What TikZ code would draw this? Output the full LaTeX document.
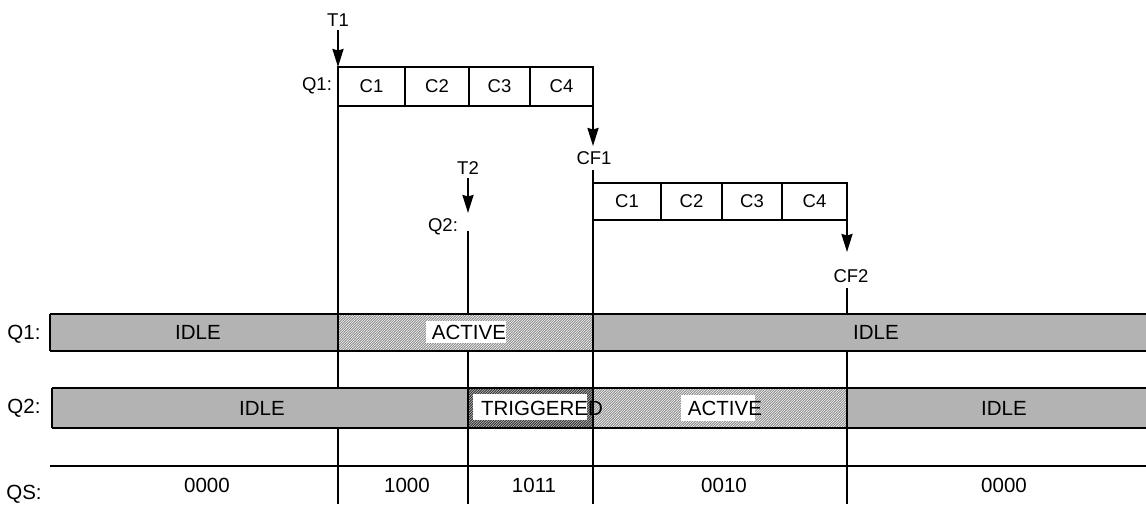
\documentclass[tikz,border=0pt]{standalone}
\usepackage{fontspec}
\setmainfont{Liberation Sans}
\usetikzlibrary{arrows.meta,patterns}
\definecolor{idlegray}{RGB}{179,179,179}
\pgfdeclarepatternformonly{fineNE}{\pgfqpoint{-1pt}{-1pt}}{\pgfqpoint{3.5pt}{3.5pt}}{\pgfqpoint{2.5pt}{2.5pt}}{%
  \pgfsetlinewidth{1pt}%
  \pgfpathmoveto{\pgfqpoint{-0.1pt}{-0.1pt}}%
  \pgfpathlineto{\pgfqpoint{2.6pt}{2.6pt}}%
  \pgfusepath{stroke}}
\begin{document}
\begin{tikzpicture}[x=1pt,y=-1pt,
  ln/.style={line width=2.2pt},
  cell/.style={draw, line width=2.2pt, inner sep=0pt, outer sep=0pt, font=\fontsize{18.5}{20}\selectfont},
  toplbl/.style={inner sep=0pt, font=\fontsize{18.5}{20}\selectfont},
  barlbl/.style={inner sep=0pt, font=\fontsize{20.5}{22}\selectfont},
  arr/.style={line width=2.2pt, -{Stealth[length=18pt,width=11pt,inset=1.5pt]}},
  idle/.style={fill=idlegray},
  activefill/.style={preaction={fill=white}, pattern=fineNE, pattern color=black!45},
  trigfill/.style={preaction={fill=gray!45}, pattern=fineNE, pattern color=black!80},
  wbox/.style={fill=white, inner sep=0pt, outer sep=0pt}
]
\useasboundingbox (0,0) rectangle (1146,504);

% ---------- top: first burst of cells ----------
\node[toplbl] (T1) at (338,20) {T1};
\node[toplbl] (Q1t) at (317,86) {Q1:};
\node[cell, minimum width=67pt, minimum height=39pt] (a1) at (371.5,86.5) {C1};
\node[cell, minimum width=64pt, minimum height=39pt] (a2) at (437,86.5) {C2};
\node[cell, minimum width=61pt, minimum height=39pt] (a3) at (499.5,86.5) {C3};
\node[cell, minimum width=63pt, minimum height=39pt] (a4) at (561.5,86.5) {C4};

\node[toplbl] (CF1) at (594,158) {CF1};
\coordinate (cf1tip) at (593,146);

\node[toplbl] (T2) at (468,168) {T2};
\coordinate (t2tip) at (468,213);
\node[toplbl] (Q2t) at (443,227) {Q2:};
\coordinate (q2start) at (468,231);

% second burst of cells
\node[cell, minimum width=68pt, minimum height=37pt] (b1) at (627,201.5) {C1};
\node[cell, minimum width=61pt, minimum height=37pt] (b2) at (691.5,201.5) {C2};
\node[cell, minimum width=60pt, minimum height=37pt] (b3) at (752,201.5) {C3};
\node[cell, minimum width=65pt, minimum height=37pt] (b4) at (814.5,201.5) {C4};

\node[toplbl] (CF2) at (851,276) {CF2};
\coordinate (cf2tip) at (847,252);
\coordinate (cf2start) at (847,288);

% bottom ends of the time marks
\coordinate (v1) at (338,504);
\coordinate (v2) at (468,504);
\coordinate (v3) at (593,504);
\coordinate (v4) at (847,504);

% arrows and time marks
\draw[arr] ([yshift=-3pt]T1.south) -- (a1.north west);
\draw[ln] (a1.south west) -- (v1);
\draw[arr] (a4.south east) -- (cf1tip);
\draw[ln] (b1.north west |- {(0,170)}) -- (b1.north west);
\draw[ln] (b1.south west) -- (v3);
\draw[arr] ([yshift=-3pt]T2.south) -- (t2tip);
\draw[ln] (q2start) -- (v2);
\draw[arr] (b4.south east) -- (cf2tip);
\draw[ln] (cf2start) -- (v4);

% ---------- Q1 bar ----------
\fill[idle] (50,314) rectangle (338,351);
\fill[activefill] (338,314) rectangle (593,351);
\fill[idle] (593,314) rectangle (1146,351);
\draw[ln] (50,314) -- (1146,314);
\draw[ln] (50,351) -- (1146,351);
\draw[ln] (50,314) -- (50,351);
\draw[ln] (338,314) -- (338,351);
\draw[ln] (593,314) -- (593,351);

% ---------- Q2 bar ----------
\fill[idle] (52,388) rectangle (468,428);
\fill[trigfill] (468,388) rectangle (593,428);
\fill[activefill] (593,388) rectangle (847,428);
\fill[idle] (847,388) rectangle (1146,428);
\draw[ln] (52,388) -- (1146,388);
\draw[ln] (52,428) -- (1146,428);
\draw[ln] (52,388) -- (52,428);
\draw[ln] (468,388) -- (468,428);
\draw[ln] (593,388) -- (593,428);
\draw[ln] (847,388) -- (847,428);

% ---------- QS line ----------
\draw[ln] (50,466) -- (1146,466);

% ---------- labels ----------
\node[barlbl] (lq1) at (24,334) {Q1:};
\node[barlbl] (lq2) at (24,408) {Q2:};
\node[barlbl] (lqs) at (24,494) {QS:};

\node[barlbl] (q1i1) at (198,332) {IDLE};
\node[wbox, minimum width=80pt, minimum height=22pt] (q1wb) at (465.5,332) {};
\node[barlbl] (q1a) at (469,332) {ACTIVE};
\node[barlbl] (q1i2) at (876,332) {IDLE};

\node[barlbl] (q2i1) at (262,408) {IDLE};
\node[wbox, minimum width=114pt, minimum height=26pt] (q2wb1) at (530,407) {};
\node[barlbl] (q2t) at (542,408) {TRIGGERED};
\node[wbox, minimum width=74pt, minimum height=26pt] (q2wb2) at (718,408) {};
\node[barlbl] (q2a) at (725,408) {ACTIVE};
\node[barlbl] (q2i2) at (1004,408) {IDLE};

\node[barlbl] (s1) at (207,485) {0000};
\node[barlbl] (s2) at (407,485) {1000};
\node[barlbl] (s3) at (534,485) {1011};
\node[barlbl] (s4) at (724,485) {0010};
\node[barlbl] (s5) at (1004,485) {0000};
\end{tikzpicture}
\end{document}
